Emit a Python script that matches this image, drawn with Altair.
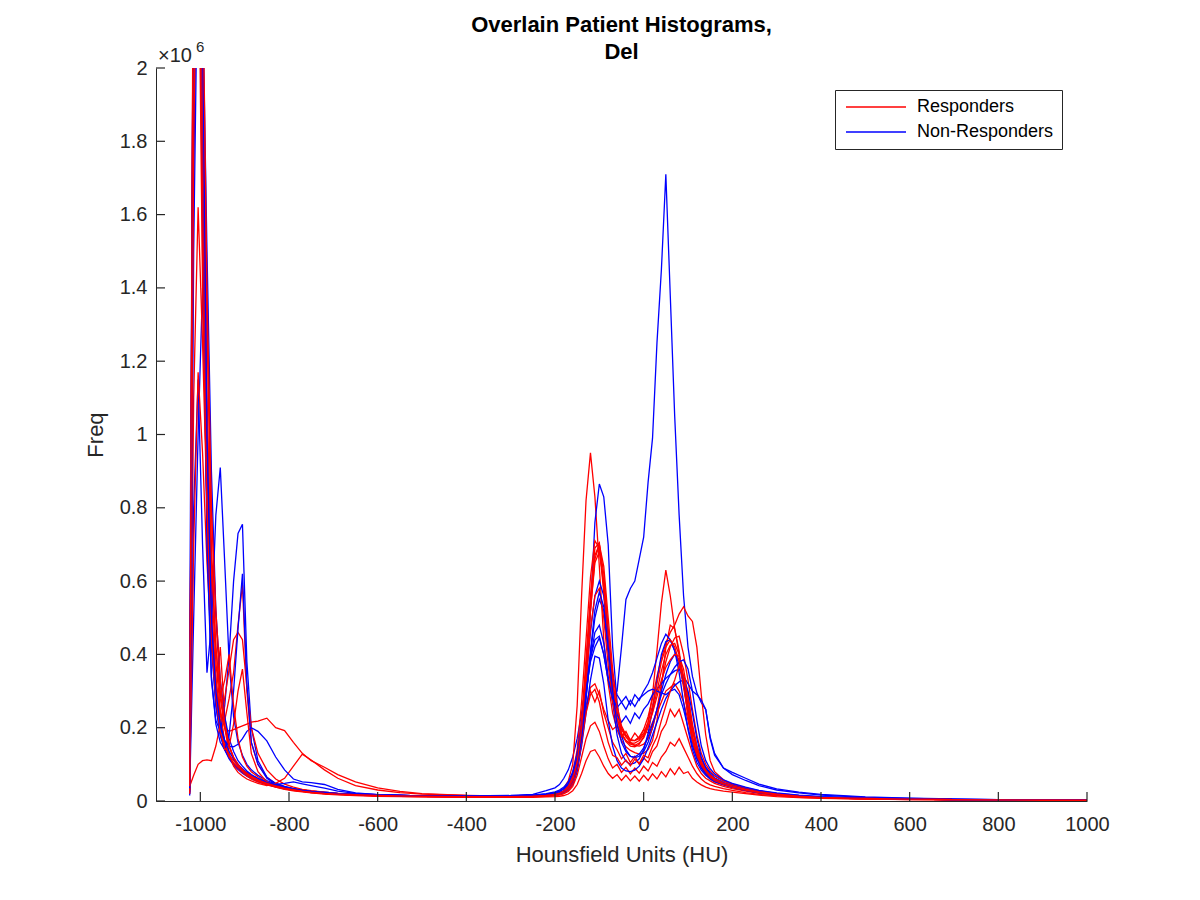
import altair as alt
import pandas as pd

# HU bin centres shared by every patient histogram
hu = [-1024, -1015, -1005, -995, -985, -975, -965, -955, -945, -935, -925, -915, -905, -895, -885,
      -870, -850, -830, -810, -790, -770, -750, -720, -690, -650, -600, -550, -500, -400, -300,
      -250, -220, -200, -190, -180, -170, -160, -150, -140, -130, -120, -110, -100, -90, -80, -70,
      -60, -50, -40, -30, -20, -10, 0,
      10, 20, 30, 40, 50, 60, 70, 80, 90, 100, 110, 120, 130, 140, 150, 160,
      180, 200, 230, 260, 300, 350, 400, 500, 600, 700, 800, 900, 1000]

# counts per bin, in thousands
r1 = ([30, 2600, 3400, 1800, 1100, 600, 380, 250, 160, 120, 100, 88, 78, 68, 60] +
      [52, 44, 38, 33, 29, 26, 23, 20, 18, 16, 14, 13, 12, 11, 12] +
      [14, 17, 22, 26, 35, 55, 100, 260, 560, 820, 950, 830, 640, 440, 320, 240, 195, 165, 148, 138, 132, 128, 130] +
      [140, 165, 220, 310, 420, 480, 470, 410, 320, 230, 160, 118, 92, 76, 64, 56] +
      [46, 38, 30, 23, 17, 12, 9, 6, 5, 4, 3, 2, 2])
r2 = ([70, 1100, 1620, 1250, 800, 500, 320, 220, 160, 125, 110, 96, 85, 76, 68] +
      [58, 48, 41, 35, 31, 27, 24, 21, 19, 17, 15, 14, 13, 12, 12] +
      [13, 15, 18, 21, 28, 42, 75, 140, 270, 440, 610, 710, 690, 570, 420, 300, 225, 185, 162, 150, 148, 155, 175] +
      [215, 290, 410, 540, 630, 560, 470, 400, 320, 240, 170, 125, 95, 78, 66, 58] +
      [48, 40, 31, 24, 18, 13, 10, 7, 5, 4, 3, 2, 2])
r3 = ([20, 2300, 3000, 1600, 900, 550, 330, 230, 220, 280, 350, 480, 590, 300, 160] +
      [100, 65, 48, 38, 32, 28, 25, 22, 19, 17, 15, 14, 13, 12, 12] +
      [13, 15, 17, 20, 25, 36, 60, 110, 210, 360, 520, 650, 680, 600, 450, 320, 240, 195, 175, 165, 165, 175, 195] +
      [230, 280, 340, 390, 430, 460, 480, 510, 530, 505, 490, 420, 290, 180, 110, 80] +
      [58, 45, 34, 26, 19, 14, 10, 7, 5, 4, 3, 2, 2])
r4 = ([50, 700, 1170, 950, 650, 430, 290, 200, 150, 120, 104, 92, 82, 73, 65] +
      [55, 46, 40, 34, 30, 27, 24, 21, 19, 17, 15, 14, 13, 12, 12] +
      [13, 15, 18, 20, 25, 34, 55, 100, 200, 360, 540, 670, 700, 620, 470, 330, 245, 200, 175, 160, 152, 150, 155] +
      [170, 200, 250, 320, 380, 420, 445, 450, 400, 330, 250, 180, 130, 100, 82, 70] +
      [55, 45, 35, 27, 20, 14, 10, 7, 5, 4, 3, 2, 2])
r5 = ([40, 2400, 2800, 1500, 850, 500, 330, 240, 200, 190, 195, 200, 205, 210, 215] +
      [218, 226, 200, 192, 160, 130, 110, 92, 72, 52, 36, 26, 20, 15, 13] +
      [13, 14, 16, 18, 22, 30, 50, 95, 170, 250, 300, 270, 300, 240, 200, 160, 140, 115, 130, 105, 122, 100, 118] +
      [105, 135, 150, 190, 210, 250, 230, 250, 210, 170, 130, 95, 75, 62, 55, 48] +
      [40, 34, 27, 21, 16, 12, 9, 6, 5, 4, 3, 2, 2])
r6 = ([40, 70, 100, 110, 112, 110, 150, 210, 280, 360, 440, 460, 440, 310, 200] +
      [130, 85, 60, 46, 38, 32, 28, 24, 21, 18, 16, 15, 14, 13, 13] +
      [14, 16, 19, 22, 28, 40, 70, 120, 190, 260, 310, 320, 290, 250, 220, 195, 205, 175, 190, 165, 185, 170, 195] +
      [185, 215, 240, 270, 300, 310, 320, 300, 270, 220, 165, 120, 90, 72, 60, 52] +
      [44, 37, 29, 22, 17, 12, 9, 6, 5, 4, 3, 2, 2])
r7 = ([25, 2200, 3200, 2000, 1300, 800, 500, 300, 200, 130, 95, 78, 68, 60, 55] +
      [48, 42, 48, 62, 95, 128, 112, 85, 62, 42, 30, 23, 19, 15, 13] +
      [13, 14, 15, 17, 20, 26, 40, 70, 120, 170, 205, 215, 190, 150, 115, 90, 100, 78, 92, 74, 90, 76, 95] +
      [82, 105, 95, 120, 135, 160, 150, 170, 145, 120, 95, 75, 60, 50, 44, 40] +
      [34, 29, 23, 18, 14, 10, 8, 6, 4, 3, 3, 2, 2])
r8 = ([35, 2500, 2900, 1700, 900, 480, 300, 420, 230, 150, 115, 95, 82, 72, 64] +
      [55, 46, 40, 34, 30, 27, 24, 21, 19, 17, 15, 14, 13, 12, 12] +
      [13, 15, 17, 19, 23, 30, 48, 90, 180, 320, 470, 560, 580, 500, 370, 270, 210, 180, 165, 158, 158, 165, 180] +
      [205, 240, 285, 330, 365, 385, 400, 395, 360, 290, 210, 150, 110, 86, 72, 62] +
      [50, 41, 32, 25, 19, 13, 10, 7, 5, 4, 3, 2, 2])
r9 = ([45, 2100, 2700, 1900, 1050, 650, 420, 280, 330, 400, 260, 170, 120, 95, 80] +
      [66, 52, 43, 36, 31, 27, 24, 21, 19, 17, 15, 14, 13, 12, 12] +
      [13, 15, 18, 21, 27, 38, 62, 115, 220, 390, 560, 690, 705, 580, 420, 300, 225, 185, 165, 155, 152, 158, 172] +
      [200, 245, 300, 355, 400, 425, 430, 400, 340, 260, 190, 140, 105, 84, 70, 60] +
      [48, 40, 31, 24, 18, 13, 10, 7, 5, 4, 3, 2, 2])
r10 = ([20, 1800, 2600, 2100, 1300, 700, 420, 280, 200, 150, 120, 100, 86, 75, 66] +
       [56, 46, 38, 32, 28, 25, 22, 19, 17, 15, 13, 12, 11, 10, 10] +
       [10, 11, 12, 13, 15, 19, 28, 45, 75, 110, 135, 140, 120, 95, 75, 62, 72, 56, 70, 55, 68, 54, 70] +
       [56, 74, 60, 80, 66, 88, 72, 92, 75, 80, 62, 52, 44, 38, 34, 31] +
       [27, 24, 20, 16, 12, 9, 7, 5, 4, 3, 2, 2, 1])
r11 = ([30, 2000, 2500, 1400, 800, 450, 280, 190, 140, 150, 210, 300, 360, 240, 130] +
       [80, 52, 40, 33, 29, 26, 23, 20, 18, 16, 14, 13, 12, 11, 11] +
       [12, 13, 15, 17, 21, 29, 48, 90, 160, 240, 290, 305, 270, 210, 160, 125, 118, 98, 112, 96, 114, 102, 125] +
       [118, 150, 175, 220, 260, 300, 330, 370, 340, 280, 200, 140, 100, 80, 66, 56] +
       [45, 38, 30, 23, 17, 12, 9, 6, 5, 4, 3, 2, 2])
r12 = ([40, 2700, 3100, 2300, 1400, 800, 520, 330, 210, 150, 118, 100, 86, 76, 68] +
       [58, 48, 41, 35, 31, 27, 24, 21, 19, 17, 15, 14, 13, 12, 12] +
       [13, 15, 18, 21, 27, 36, 58, 105, 200, 350, 520, 660, 700, 640, 500, 360, 260, 205, 180, 168, 165, 170, 185] +
       [215, 260, 320, 380, 420, 440, 420, 380, 310, 240, 175, 130, 100, 82, 70, 61] +
       [49, 41, 32, 25, 19, 13, 10, 7, 5, 4, 3, 2, 2])

b1 = ([420, 2400, 2900, 1800, 900, 450, 260, 180, 140, 115, 98, 86, 76, 68, 61] +
      [53, 45, 39, 34, 30, 27, 24, 22, 20, 18, 16, 15, 14, 14, 15] +
      [18, 28, 36, 45, 62, 85, 120, 170, 240, 320, 390, 440, 450, 400, 330, 290, 300, 420, 550, 580, 600, 660, 720] +
      [870, 990, 1250, 1450, 1710, 1380, 1050, 780, 560, 420, 340, 295, 268, 250, 170, 125] +
      [90, 78, 62, 46, 33, 24, 18, 11, 8, 6, 4, 3, 2])
b2 = ([30, 500, 1000, 1400, 800, 420, 260, 180, 140, 118, 102, 90, 80, 72, 64] +
      [55, 46, 40, 34, 30, 27, 24, 21, 19, 17, 15, 14, 13, 12, 12] +
      [13, 15, 17, 19, 23, 30, 45, 80, 160, 300, 520, 760, 865, 830, 700, 420, 270, 180, 140, 122, 118, 122, 135] +
      [160, 200, 250, 300, 345, 380, 400, 385, 330, 250, 175, 125, 95, 78, 66, 58] +
      [48, 40, 32, 25, 19, 14, 11, 8, 6, 4, 3, 2, 2])
b3 = ([40, 800, 1150, 700, 350, 480, 780, 910, 650, 380, 230, 160, 125, 100, 85] +
      [70, 56, 46, 39, 34, 30, 27, 24, 21, 19, 17, 15, 14, 13, 14] +
      [16, 20, 25, 30, 38, 52, 80, 130, 220, 340, 460, 560, 600, 560, 450, 340, 290, 270, 285, 262, 290, 275, 300] +
      [320, 350, 390, 430, 455, 440, 410, 370, 320, 260, 200, 150, 115, 92, 78, 68] +
      [55, 46, 36, 28, 21, 15, 11, 8, 6, 4, 3, 2, 2])
b4 = ([20, 1700, 2600, 1600, 700, 330, 220, 190, 260, 400, 600, 730, 755, 380, 200] +
      [110, 65, 48, 40, 34, 30, 27, 24, 21, 19, 17, 15, 14, 13, 14] +
      [15, 18, 22, 26, 33, 45, 70, 115, 190, 290, 390, 460, 480, 430, 340, 270, 235, 215, 232, 212, 240, 225, 250] +
      [265, 290, 305, 320, 335, 345, 355, 360, 340, 320, 300, 290, 275, 250, 175, 130] +
      [90, 72, 56, 42, 30, 22, 16, 10, 7, 5, 4, 3, 2])
b5 = ([30, 2300, 3000, 1700, 750, 340, 210, 160, 140, 180, 300, 470, 620, 320, 160] +
      [100, 62, 46, 38, 33, 29, 26, 23, 20, 18, 16, 15, 14, 13, 13] +
      [14, 16, 19, 22, 27, 36, 55, 95, 170, 280, 400, 500, 550, 520, 400, 270, 180, 130, 108, 100, 104, 115, 140] +
      [185, 250, 330, 400, 435, 440, 410, 350, 270, 195, 140, 105, 84, 70, 60, 53] +
      [44, 37, 29, 22, 17, 12, 9, 7, 5, 4, 3, 2, 2])
b6 = ([25, 2000, 2700, 1900, 1000, 480, 280, 200, 165, 150, 148, 155, 170, 190, 200] +
      [190, 164, 120, 85, 60, 52, 50, 45, 32, 22, 17, 15, 14, 13, 13] +
      [13, 14, 16, 18, 22, 30, 48, 85, 150, 240, 330, 395, 390, 320, 220, 150, 110, 90, 82, 80, 84, 95, 115] +
      [145, 180, 215, 250, 280, 300, 315, 325, 330, 300, 240, 170, 120, 90, 74, 63] +
      [50, 42, 33, 25, 19, 14, 10, 7, 5, 4, 3, 2, 2])
b7 = ([15, 1500, 2400, 2200, 1500, 900, 520, 330, 230, 170, 135, 110, 95, 82, 72] +
      [62, 52, 45, 48, 52, 47, 42, 35, 27, 21, 17, 15, 14, 13, 14] +
      [16, 19, 23, 27, 34, 48, 75, 120, 200, 300, 380, 420, 445, 400, 330, 280, 255, 270, 250, 275, 258, 280, 290] +
      [300, 305, 300, 295, 290, 300, 305, 290, 250, 200, 150, 115, 90, 75, 64, 56] +
      [46, 39, 31, 24, 18, 13, 10, 7, 5, 4, 3, 2, 2])
b8 = ([35, 2600, 3300, 2100, 1000, 500, 300, 210, 165, 135, 115, 100, 88, 78, 70] +
      [60, 50, 43, 37, 33, 29, 26, 23, 20, 18, 16, 15, 14, 13, 13] +
      [14, 16, 19, 22, 27, 36, 56, 95, 170, 280, 410, 520, 570, 530, 420, 300, 210, 160, 135, 122, 120, 128, 145] +
      [175, 210, 250, 290, 320, 345, 365, 380, 385, 360, 300, 220, 150, 110, 88, 74] +
      [58, 48, 38, 29, 22, 16, 12, 8, 6, 4, 3, 2, 2])

responders = {'R1': r1, 'R2': r2, 'R3': r3, 'R4': r4, 'R5': r5, 'R6': r6,
              'R7': r7, 'R8': r8, 'R9': r9, 'R10': r10, 'R11': r11, 'R12': r12}
non_responders = {'B1': b1, 'B2': b2, 'B3': b3, 'B4': b4,
                  'B5': b5, 'B6': b6, 'B7': b7, 'B8': b8}

# plotting order (patients interleaved like the original loop)
draw_order = ['B1', 'R1', 'B2', 'R2', 'R3', 'B3', 'R4', 'B4', 'R5', 'R6',
              'B5', 'R7', 'R8', 'B6', 'R9', 'B7', 'R10', 'R11', 'B8', 'R12']

x_ticks = [-1000, -800, -600, -400, -200, 0, 200, 400, 600, 800, 1000]
y_ticks = [0, 200000, 400000, 600000, 800000, 1000000, 1200000, 1400000,
           1600000, 1800000, 2000000]

title_lines = ['Overlain Patient Histograms,', 'Del']

rows = []
for pid in draw_order:
    if pid in responders:
        group, vals = 'Responders', responders[pid]
    else:
        group, vals = 'Non-Responders', non_responders[pid]
    for h, v in zip(hu, vals):
        rows.append({'patient': pid, 'group': group, 'hu': h, 'freq': v * 1000})
df = pd.DataFrame(rows)

FONT = 'Liberation Sans'
AX = '#262626'
W, H = 931, 733

x_scale = alt.Scale(domain=[-1100, 1000], nice=False, zero=False)
y_scale = alt.Scale(domain=[0, 2000000], nice=False)
color_scale = alt.Scale(domain=['Responders', 'Non-Responders'],
                        range=['#ff0000', '#0000ff'])

x_axis = alt.Axis(values=x_ticks, title='Hounsfield Units (HU)',
                  tickSize=0, labelPadding=13, titlePadding=10,
                  labelFlush=False, labelOverlap=False,
                  labelExpr='toString(datum.value)')
y_axis = alt.Axis(values=y_ticks, title='Freq', tickSize=0,
                  labelPadding=9, titlePadding=12, labelOverlap=False,
                  labelExpr="format(datum.value / 1000000, '~g')")

lines = alt.Chart(df).mark_line(clip=True, strokeWidth=1.3).encode(
    x=alt.X('hu:Q', scale=x_scale, axis=x_axis),
    y=alt.Y('freq:Q', scale=y_scale, axis=y_axis),
    color=alt.Color('group:N', scale=color_scale, title=None,
                    legend=alt.Legend(orient='none', legendX=679, legendY=22,
                                      symbolType='M-1,0H9', symbolSize=144,
                                      symbolStrokeWidth=1.3, labelOffset=56,
                                      labelFont=FONT, labelFontSize=18,
                                      labelColor='black', padding=8,
                                      rowPadding=7, strokeColor=AX,
                                      fillColor='white')),
    detail='patient:N'
)

# MATLAB-style ticks pointing into the axes
x_tick_marks = alt.Chart(pd.DataFrame({'hu': x_ticks})).mark_rule(
    color=AX, strokeWidth=1.2).encode(
    x=alt.X('hu:Q', scale=x_scale, axis=x_axis),
    y=alt.value(H), y2=alt.value(H - 9))
y_tick_marks = alt.Chart(pd.DataFrame({'freq': y_ticks})).mark_rule(
    color=AX, strokeWidth=1.2).encode(
    y=alt.Y('freq:Q', scale=y_scale, axis=y_axis),
    x=alt.value(0), x2=alt.value(9))

# exponent label above the y axis
exp_base = alt.Chart(pd.DataFrame({'t': ['×10']})).mark_text(
    align='left', baseline='alphabetic', font=FONT, fontSize=20, color=AX
).encode(x=alt.value(2), y=alt.value(-6), text='t:N')
exp_pow = alt.Chart(pd.DataFrame({'t': ['6']})).mark_text(
    align='left', baseline='alphabetic', font=FONT, fontSize=15, color=AX
).encode(x=alt.value(40), y=alt.value(-16), text='t:N')

# two-line bold title
title1 = alt.Chart(pd.DataFrame({'t': [title_lines[0]]})).mark_text(
    align='center', baseline='middle', font=FONT, fontSize=22,
    fontWeight='bold', color='black'
).encode(x=alt.value(W / 2), y=alt.value(-43), text='t:N')
title2 = alt.Chart(pd.DataFrame({'t': [title_lines[1]]})).mark_text(
    align='center', baseline='middle', font=FONT, fontSize=22,
    fontWeight='bold', color='black'
).encode(x=alt.value(W / 2), y=alt.value(-16), text='t:N')

chart = alt.layer(lines, x_tick_marks, y_tick_marks, exp_base, exp_pow,
                  title1, title2).properties(
    width=W, height=H,
    padding={'left': 148, 'top': 60, 'right': 105, 'bottom': 91},
    autosize=alt.AutoSizeParams(type='none')
).configure_view(strokeWidth=0).configure_axis(
    grid=False, domainColor=AX, domainWidth=1, labelColor=AX, titleColor=AX,
    labelFont=FONT, titleFont=FONT, labelFontSize=20, titleFontSize=22,
    titleFontWeight='normal'
)

chart.save('out.html', embed_options={'renderer': 'svg', 'actions': False})
